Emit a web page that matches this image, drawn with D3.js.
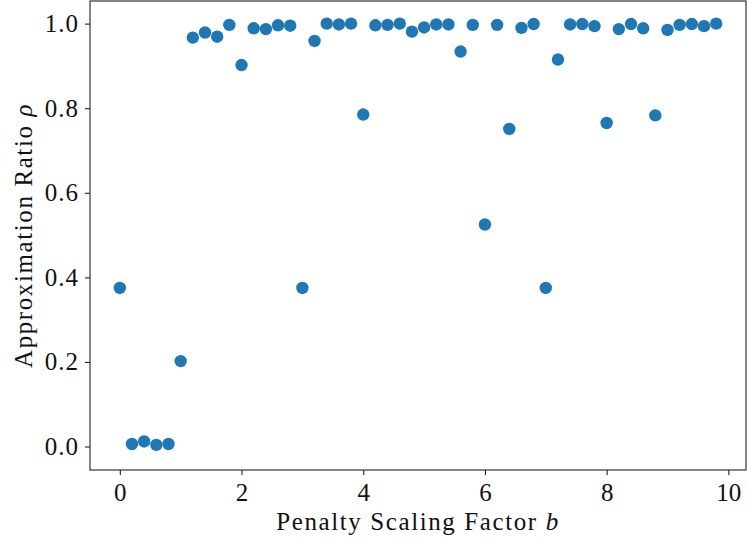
<!DOCTYPE html>
<html lang="en">
<head>
<meta charset="UTF-8">
<title>Approximation Ratio vs Penalty Scaling Factor</title>
<script src="https://d3js.org/d3.v7.min.js"></script>
<style>
    body { margin: 0; background: #fff; }
    svg text { font-family: "Liberation Serif", "DejaVu Serif", serif; fill: #111; }
    .axis path, .axis line { stroke: #222; stroke-width: 1.1px; }
</style>
</head>
<body>
<div id="chart"></div>
<script>
    // penalty scaling factor b, step 0.2
    var bValues = [0, 0.2, 0.4, 0.6, 0.8, 1.0, 1.2, 1.4, 1.6, 1.8,
                   2.0, 2.2, 2.4, 2.6, 2.8, 3.0, 3.2, 3.4, 3.6, 3.8,
                   4.0, 4.2, 4.4, 4.6, 4.8, 5.0, 5.2, 5.4, 5.6, 5.8,
                   6.0, 6.2, 6.4, 6.6, 6.8, 7.0, 7.2, 7.4, 7.6, 7.8,
                   8.0, 8.2, 8.4, 8.6, 8.8, 9.0, 9.2, 9.4, 9.6, 9.8];
    // approximation ratio rho
    var rhoValues = [0.375, 0.006, 0.012, 0.004, 0.006, 0.202, 0.967, 0.979, 0.969, 0.997,
                     0.902, 0.989, 0.987, 0.996, 0.995, 0.375, 0.959, 1.000, 0.998, 1.000,
                     0.785, 0.996, 0.997, 1.000, 0.981, 0.991, 0.998, 0.998, 0.934, 0.997,
                     0.525, 0.997, 0.751, 0.990, 0.999, 0.375, 0.915, 0.998, 0.999, 0.994,
                     0.765, 0.987, 0.999, 0.989, 0.783, 0.985, 0.997, 0.999, 0.994, 1.000];
    var xTicks = [0, 2, 4, 6, 8, 10];
    var yTicks = [0.0, 0.2, 0.4, 0.6, 0.8, 1.0];

    var width = 747, height = 543;
    var margin = {left: 90, right: 1, top: 1, bottom: 73};

    var svg = d3.select("#chart").append("svg")
        .attr("width", width)
        .attr("height", height);

    var x = d3.scaleLinear()
        .domain([-0.49, 10.29])
        .range([margin.left, width - margin.right]);

    var y = d3.scaleLinear()
        .domain([-0.0555, 1.0535])
        .range([height - margin.bottom, margin.top]);

    // frame
    svg.append("rect")
        .attr("x", margin.left)
        .attr("y", margin.top)
        .attr("width", width - margin.right - margin.left)
        .attr("height", height - margin.bottom - margin.top)
        .attr("fill", "none")
        .attr("stroke", "#222")
        .attr("stroke-width", 1.1);

    var xAxis = svg.append("g")
        .attr("class", "axis")
        .attr("transform", "translate(0," + (height - margin.bottom) + ")")
        .call(d3.axisBottom(x).tickValues(xTicks).tickFormat(d3.format("d")).tickSize(5).tickPadding(8).tickSizeOuter(0));
    xAxis.select(".domain").remove();
    xAxis.selectAll("text").style("font-size", "25px").attr("fill", "#111");

    var yAxis = svg.append("g")
        .attr("class", "axis")
        .attr("transform", "translate(" + margin.left + ",0)")
        .call(d3.axisLeft(y).tickValues(yTicks).tickFormat(d3.format(".1f")).tickSize(5).tickPadding(6).tickSizeOuter(0));
    yAxis.select(".domain").remove();
    yAxis.selectAll("text").style("font-size", "25px").style("letter-spacing", "1px").attr("fill", "#111");

    // points
    svg.append("g")
        .selectAll("circle")
        .data(bValues)
        .enter().append("circle")
            .attr("cx", d => x(d))
            .attr("cy", (d, i) => y(rhoValues[i]))
            .attr("r", 6.2)
            .attr("fill", "#1f77b4");

    // axis labels
    var xl = svg.append("text")
        .attr("x", (margin.left + width - margin.right) / 2)
        .attr("y", 530)
        .attr("text-anchor", "middle")
        .style("font-size", "25px")
        .style("letter-spacing", "1.6px");
    xl.append("tspan").text("Penalty Scaling Factor ");
    xl.append("tspan").style("font-style", "italic").text("b");

    var yl = svg.append("text")
        .attr("transform", "translate(32," + ((margin.top + height - margin.bottom) / 2) + ") rotate(-90)")
        .attr("text-anchor", "middle")
        .style("font-size", "25px")
        .style("letter-spacing", "1.6px");
    yl.append("tspan").text("Approximation Ratio ");
    yl.append("tspan").style("font-style", "italic").text("ρ");
</script>
</body>
</html>
